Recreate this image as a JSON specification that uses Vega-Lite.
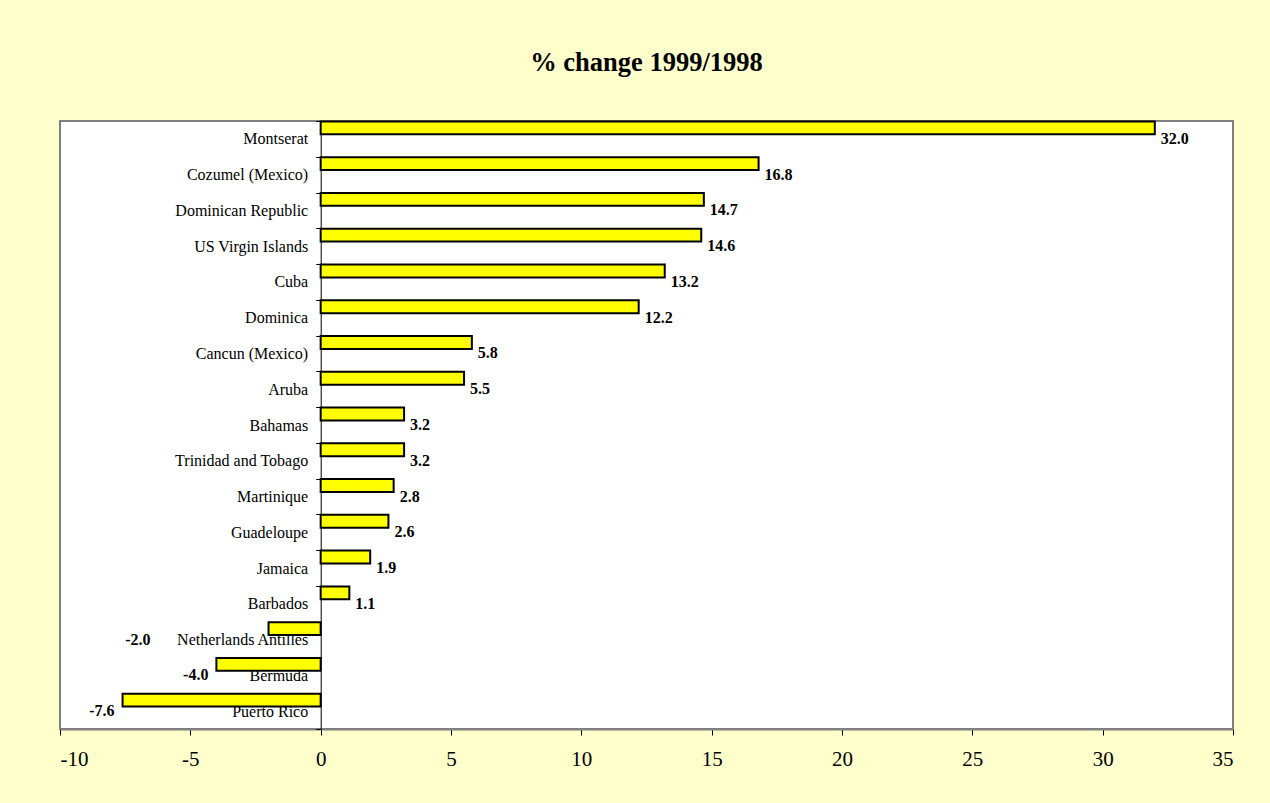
{
  "$schema": "https://vega.github.io/schema/vega-lite/v6.json",
  "width": 1173,
  "height": 608,
  "autosize": "none",
  "padding": {"left": 60, "top": 121, "right": 37, "bottom": 74},
  "background": "#FFFFCC",
  "title": {
    "text": "% change 1999/1998",
    "font": "Liberation Serif",
    "fontSize": 26.5,
    "fontWeight": "bold",
    "color": "black",
    "anchor": "middle",
    "baseline": "alphabetic",
    "offset": 16
  },
  "data": {
    "values": [
      {"country": "Montserat", "change": 32.0},
      {"country": "Cozumel (Mexico)", "change": 16.8},
      {"country": "Dominican Republic", "change": 14.7},
      {"country": "US Virgin Islands", "change": 14.6},
      {"country": "Cuba", "change": 13.2},
      {"country": "Dominica", "change": 12.2},
      {"country": "Cancun (Mexico)", "change": 5.8},
      {"country": "Aruba", "change": 5.5},
      {"country": "Bahamas", "change": 3.2},
      {"country": "Trinidad and Tobago", "change": 3.2},
      {"country": "Martinique", "change": 2.8},
      {"country": "Guadeloupe", "change": 2.6},
      {"country": "Jamaica", "change": 1.9},
      {"country": "Barbados", "change": 1.1},
      {"country": "Netherlands Antilles", "change": -2.0},
      {"country": "Bermuda", "change": -4.0},
      {"country": "Puerto Rico", "change": -7.6}
    ]
  },
  "transform": [
    {"calculate": "replace(format(datum.change, '.1f'), '\u2212', '-')", "as": "lbl"}
  ],
  "encoding": {
    "y": {
      "field": "country",
      "type": "nominal",
      "sort": null,
      "scale": {"paddingInner": 0, "paddingOuter": 0},
      "axis": {
        "title": null,
        "offset": -260.7,
        "tickBand": "extent",
        "domainColor": "black",
        "domainWidth": 1,
        "tickColor": "black",
        "tickSize": 5,
        "labelFont": "Liberation Serif",
        "labelFontSize": 16,
        "labelColor": "black",
        "labelPadding": 8,
        "grid": false
      }
    },
    "x": {
      "field": "change",
      "type": "quantitative",
      "stack": null,
      "scale": {"domain": [-10, 35], "nice": false, "zero": false},
      "axis": {
        "title": null,
        "values": [-10, -5, 0, 5, 10, 15, 20, 25, 30, 35],
        "labelExpr": "'' + datum.value",
        "domainColor": "#808080",
        "domainWidth": 2,
        "tickColor": "black",
        "tickSize": 6,
        "labelFont": "Liberation Serif",
        "labelFontSize": 21,
        "labelColor": "black",
        "labelPadding": 13,
        "grid": false
      }
    }
  },
  "layer": [
    {
      "mark": {
        "type": "bar",
        "fill": "#FFFF00",
        "stroke": "black",
        "strokeWidth": 2,
        "height": {"band": 0.36},
        "yOffset": -11
      },
      "encoding": {
        "x": {"field": "change", "type": "quantitative"},
        "x2": {"datum": 0}
      }
    },
    {
      "transform": [{"filter": "datum.change > 0"}],
      "mark": {
        "type": "text",
        "align": "left",
        "baseline": "middle",
        "dx": 6,
        "font": "Liberation Serif",
        "fontSize": 16,
        "fontWeight": "bold",
        "color": "black"
      },
      "encoding": {"text": {"field": "lbl"}}
    },
    {
      "transform": [{"filter": "datum.change < 0 && datum.country != 'Netherlands Antilles'"}],
      "mark": {
        "type": "text",
        "align": "right",
        "baseline": "middle",
        "dx": -8,
        "font": "Liberation Serif",
        "fontSize": 16,
        "fontWeight": "bold",
        "color": "black"
      },
      "encoding": {"text": {"field": "lbl"}}
    },
    {
      "transform": [{"filter": "datum.country == 'Netherlands Antilles'"}],
      "mark": {
        "type": "text",
        "align": "right",
        "baseline": "middle",
        "dx": -118,
        "font": "Liberation Serif",
        "fontSize": 16,
        "fontWeight": "bold",
        "color": "black"
      },
      "encoding": {"text": {"field": "lbl"}}
    }
  ],
  "config": {
    "view": {"fill": "white", "stroke": "#808080", "strokeWidth": 2}
  }
}
